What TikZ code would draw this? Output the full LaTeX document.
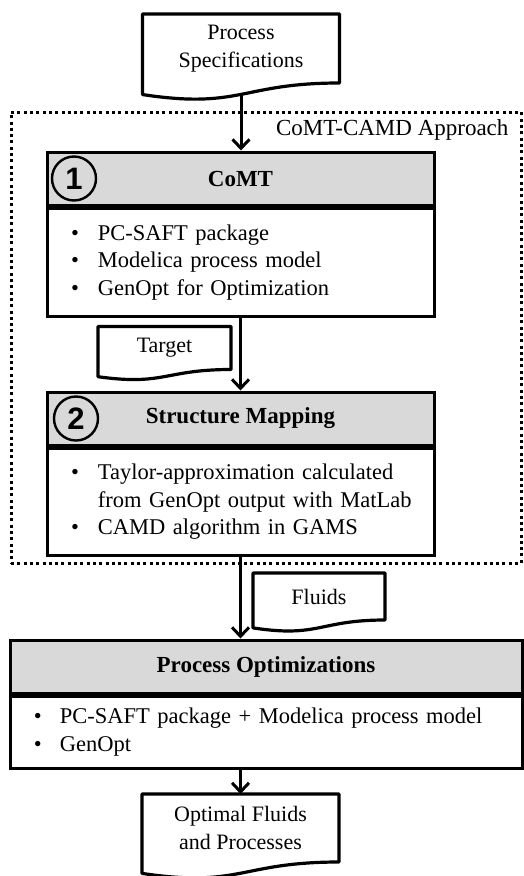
\documentclass[tikz,border=0pt]{standalone}
\usepackage{fontspec}
\setmainfont{Liberation Serif}
\newfontfamily\numfont{Liberation Sans}
\usetikzlibrary{arrows.meta,calc,positioning}
\definecolor{headgray}{RGB}{217,217,217}

% outline of a document symbol round a node, wavy bottom edge
\newcommand{\docoutline}[1]{%
  \draw[docline] (#1.north west) -- (#1.north east) -- (#1.south east)
    .. controls (#1.south) and ($(#1.north)!1.384!(#1.south)$) .. ($(#1.north west)!1.1675!(#1.south west)$) -- cycle;
  \coordinate (#1-b) at ($(#1.north)!1.165!(#1.south)$);}

\begin{document}
\begin{tikzpicture}[x=1pt, y=-1pt,
    docu/.style={draw=none, outer sep=0pt, align=center, font=\fontsize{22}{28}\selectfont},
    docline/.style={line width=3.2pt, line join=round},
    head/.style={draw, fill=headgray, line width=3pt, minimum height=53pt, font=\fontsize{23}{27}\selectfont\bfseries},
    body/.style={draw, fill=white, line width=3pt, anchor=north, align=left, inner xsep=24pt, font=\fontsize{22.5}{27.5}\selectfont},
    num/.style={circle, draw, line width=2.4pt, minimum size=44pt, inner sep=0pt, font=\fontsize{31}{31}\numfont\bfseries},
    frame/.style={draw, line width=3pt, dash pattern=on 3pt off 3.3pt},
    arr/.style={line width=3pt, -{Straight Barb[length=9pt, width=17pt, line width=3pt]}},
  ]
  \useasboundingbox (0,0) rectangle (523,876);
  % dotted frame of the approach
  \node[frame, minimum width=510pt, minimum height=451pt] (approach) at (266,337.5) {};
  \node[anchor=east, font=\fontsize{23}{27}\selectfont] (approachlbl) at (512,130) {CoMT-CAMD Approach};

  \node[docu, minimum width=197pt, minimum height=69pt] (spec) at (241,48.5) {Process\\Specifications};
  \docoutline{spec}

  % step 1
  \node[head, minimum width=387pt] (comt) at (240.5,178.5) {CoMT};
  \node[body, text width=339pt, minimum height=108pt] (comtbody) at (comt.south) {%
    \begin{tabular}{@{}l@{\hspace{19pt}}l@{}}
      \textbullet & PC-SAFT package\\
      \textbullet & Modelica process model\\
      \textbullet & GenOpt for Optimization
    \end{tabular}};
  \node[num] (n1) at (74,178.5) {1};

  \node[docu, minimum width=133pt, minimum height=43pt] (target) at (164.5,348) {Target};
  \docoutline{target}

  % step 2
  \node[head, minimum width=387pt] (map) at (240.5,418.5) {Structure Mapping};
  \node[body, text width=339pt, minimum height=107pt] (mapbody) at (map.south) {%
    \begin{tabular}{@{}l@{\hspace{19pt}}l@{}}
      \textbullet & Taylor-approximation calculated\\
                  & from GenOpt output with MatLab\\
      \textbullet & CAMD algorithm in GAMS
    \end{tabular}};
  \node[num] (n2) at (76,418.5) {2};

  \node[docu, minimum width=132pt, minimum height=47pt] (fluids) at (319,596.5) {Fluids};
  \docoutline{fluids}

  % process optimization
  \node[head, minimum width=512pt] (opt) at (266,666.5) {Process Optimizations};
  \node[body, text width=464pt, minimum height=72pt] (optbody) at (opt.south) {%
    \begin{tabular}{@{}l@{\hspace{18pt}}l@{}}
      \textbullet & PC-SAFT package + Modelica process model\\
      \textbullet & GenOpt
    \end{tabular}};

  \node[docu, minimum width=197pt, minimum height=68pt] (result) at (240.5,828) {Optimal Fluids\\and Processes};
  \docoutline{result}

  \draw[arr] (spec-b) -- (spec-b |- comt.north);
  \draw[arr] (comtbody.south) -- (map.north);
  \draw[arr] (mapbody.south) -- (mapbody.south |- opt.north);
  \draw[arr] (result.north |- optbody.south) -- (result.north);
\end{tikzpicture}
\end{document}
